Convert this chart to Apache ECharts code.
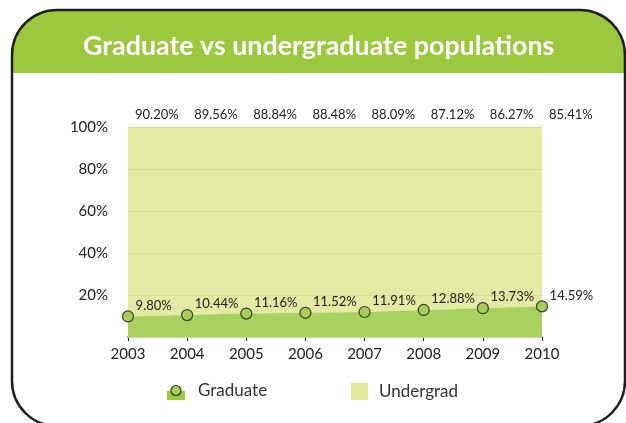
<!DOCTYPE html>
<html>
<head>
<meta charset="utf-8">
<script src="https://cdn.jsdelivr.net/npm/echarts@6/dist/echarts.min.js"></script>
<style>
html,body{margin:0;padding:0;background:#fff;}
#chart{width:626px;height:423px;}
</style>
</head>
<body>
<div id="chart"></div>
<script>
var years = ['2003','2004','2005','2006','2007','2008','2009','2010'];
var graduate = [9.80, 10.44, 11.16, 11.52, 11.91, 12.88, 13.73, 14.59];
var undergrad = [90.20, 89.56, 88.84, 88.48, 88.09, 87.12, 86.27, 85.41];
var titleText = 'Graduate vs undergraduate populations';

var FONT = 'Lato';
var gradIconSvg = '<svg xmlns="http://www.w3.org/2000/svg" width="18" height="18" viewBox="0 0 18 18">' +
  '<rect x="0" y="9" width="18" height="9" fill="#9bc83c"/>' +
  '<circle cx="9" cy="8.5" r="5" fill="#a6cf5a" stroke="#3a3a2a" stroke-width="1.2"/></svg>';
var gradIcon = 'image://data:image/svg+xml;charset=utf-8,' + encodeURIComponent(gradIconSvg);

var chart = echarts.init(document.getElementById('chart'));
chart.setOption({
  backgroundColor: '#ffffff',
  animation: false,
  graphic: [
    { type: 'rect', z: 0, shape: { x: 12, y: 10, width: 613, height: 63, r: [45, 45, 0, 0] },
      style: { fill: '#9bc83c' } },
    { type: 'rect', z: 100, shape: { x: 12, y: 10, width: 613, height: 416, r: 45 },
      style: { fill: 'none', stroke: '#231f20', lineWidth: 2.5 } }
  ],
  title: {
    text: titleText,
    left: 83,
    top: 33,
    padding: 0,
    textStyle: { color: '#ffffff', fontSize: 26.8, fontWeight: 'bold', fontFamily: FONT }
  },
  legend: [
    { data: [{ name: 'Graduate', icon: gradIcon }], left: 167, top: 382, padding: 0, itemWidth: 18, itemHeight: 18,
      textStyle: { fontSize: 17, color: '#333', fontFamily: FONT, padding: [0, 0, 0, 8] } },
    { data: [{ name: 'Undergrad', icon: 'rect', itemStyle: { color: '#dfe896', opacity: 1 } }],
      left: 351, top: 383, padding: 0, itemWidth: 17, itemHeight: 17,
      textStyle: { fontSize: 17, color: '#333', fontFamily: FONT, padding: [0, 0, 0, 6] } }
  ],
  grid: { left: 128, right: 84, top: 127, bottom: 86 },
  xAxis: {
    type: 'category',
    data: years,
    boundaryGap: false,
    axisLine: { lineStyle: { color: '#222', width: 1.5 } },
    axisTick: { show: true, length: 4, lineStyle: { color: '#222' } },
    axisLabel: { color: '#222', fontSize: 15, fontFamily: FONT, margin: 10 },
    splitLine: { show: false }
  },
  yAxis: {
    type: 'value',
    min: 0, max: 100, interval: 20,
    z: 3,
    axisLine: { show: false },
    axisTick: { show: false },
    axisLabel: {
      color: '#222', fontSize: 15, fontFamily: FONT, margin: 20,
      formatter: function (v) { return v === 0 ? '' : v + '%'; }
    },
    splitLine: { show: true, lineStyle: { color: '#d3da92', width: 1 } }
  },
  series: [
    {
      name: 'Graduate',
      type: 'line',
      stack: 'total',
      data: graduate,
      symbol: 'circle',
      symbolSize: 11,
      z: 4,
      lineStyle: { width: 0 },
      itemStyle: { color: '#a6cf5a', borderColor: '#3a3a2a', borderWidth: 1.2 },
      areaStyle: { color: '#a9d15f', opacity: 1 },
      label: {
        show: true, position: 'right', distance: 1.5, offset: [0, -11],
        color: '#222', fontSize: 13, fontFamily: FONT,
        formatter: function (p) { return p.value.toFixed(2) + '%'; }
      }
    },
    {
      name: 'Undergrad',
      type: 'line',
      stack: 'total',
      data: undergrad,
      symbol: 'circle',
      symbolSize: 11,
      z: 2,
      lineStyle: { width: 0 },
      itemStyle: { color: 'rgba(0,0,0,0)', borderWidth: 0 },
      areaStyle: { color: '#e3eaa3', opacity: 1 },
      label: {
        show: true, position: 'right', distance: 1.5, offset: [0, -12],
        color: '#222', fontSize: 13, fontFamily: FONT,
        formatter: function (p) { return p.value.toFixed(2) + '%'; }
      }
    }
  ]
});
</script>
</body>
</html>
